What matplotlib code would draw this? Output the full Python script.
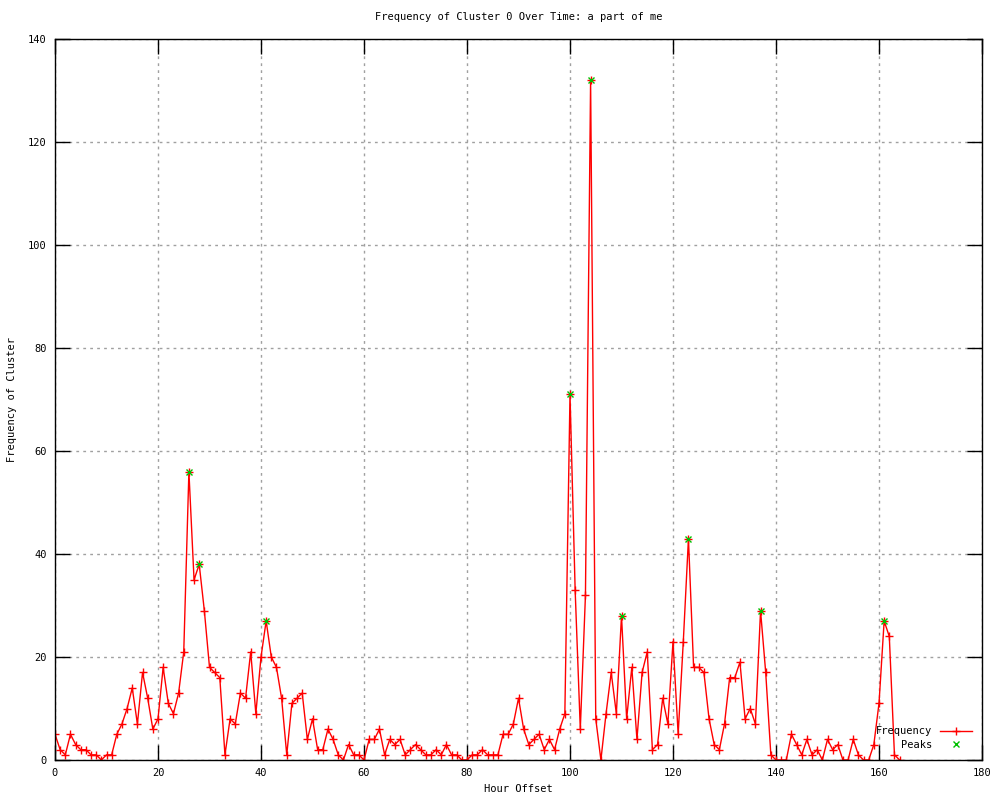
import matplotlib
matplotlib.use("Agg")
import matplotlib.pyplot as plt

# hourly frequency of cluster 0
hours = list(range(0, 165))
freq = [5, 2, 1, 5, 3, 2, 2, 1, 1, 0,
        1, 1, 5, 7, 10, 14, 7, 17, 12, 6,
        8, 18, 11, 9, 13, 21, 56, 35, 38, 29,
        18, 17, 16, 1, 8, 7, 13, 12, 21, 9,
        20, 27, 20, 18, 12, 1, 11, 12, 13, 4,
        8, 2, 2, 6, 4, 1, 0, 3, 1, 1,
        0, 4, 4, 6, 1, 4, 3, 4, 1, 2,
        3, 2, 1, 1, 2, 1, 3, 1, 1, 0,
        0, 1, 1, 2, 1, 1, 1, 5, 5, 7,
        12, 6, 3, 4, 5, 2, 4, 2, 6, 9,
        71, 33, 6, 32, 132, 8, 0, 9, 17, 9,
        28, 8, 18, 4, 17, 21, 2, 3, 12, 7,
        23, 5, 23, 43, 18, 18, 17, 8, 3, 2,
        7, 16, 16, 19, 8, 10, 7, 29, 17, 1,
        0, 0, 0, 5, 3, 1, 4, 1, 2, 0,
        4, 2, 3, 0, 0, 4, 1, 0, 0, 3,
        11, 27, 24, 1, 0]

peak_hours = [26, 28, 41, 100, 104, 110, 123, 137, 161]
peak_vals = [56, 38, 27, 71, 132, 28, 43, 29, 27]

font = "DejaVu Sans Mono"
fs = 7.5

fig = plt.figure(figsize=(10, 8), dpi=100)
ax = fig.add_axes([0.055, 0.05, 0.927, 0.901])

ax.plot(hours, freq, color="red", lw=1, marker="+", ms=6, mew=1, label="Frequency")
ax.plot(peak_hours, peak_vals, ls="none", color="#00c000", marker="x", ms=5, mew=1,
        label="Peaks")

ax.set_xlim(0, 180)
ax.set_ylim(0, 140)
ax.set_xticks(range(0, 181, 20))
ax.set_yticks(range(0, 141, 20))
ax.grid(True, color="#a0a0a0", ls=(0, (2, 3)), lw=1)
ax.set_axisbelow(True)
ax.tick_params(direction="in", length=11, width=1, top=True, right=True,
               labelsize=fs, pad=6)
for lab in ax.get_xticklabels() + ax.get_yticklabels():
    lab.set_family(font)
for s in ax.spines.values():
    s.set_linewidth(1)

ax.set_title("Frequency of Cluster 0 Over Time: a part of me", fontsize=fs,
             family=font, pad=14)
ax.set_xlabel("Hour Offset", fontsize=fs, family=font, labelpad=4)
ax.set_ylabel("Frequency of Cluster", fontsize=fs, family=font, labelpad=8)

leg = ax.legend(loc="lower right", bbox_to_anchor=(1.0, 0.0), frameon=False,
                markerfirst=False, prop={"family": font, "size": fs},
                handlelength=3, labelspacing=0.3, borderaxespad=0.6)
for t in leg.get_texts():
    t.set_ha("right")

fig.savefig("out.png", dpi=100)
